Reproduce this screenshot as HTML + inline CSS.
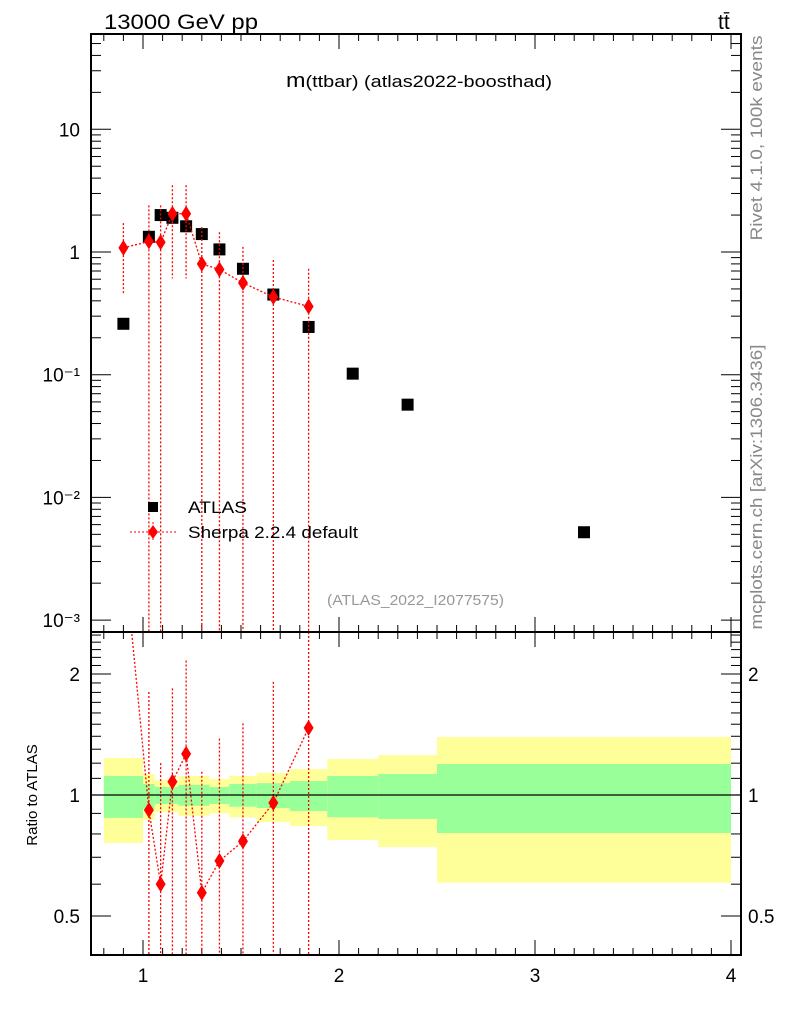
<!DOCTYPE html>
<html><head><meta charset="utf-8"><style>
body{margin:0;background:#fff}
svg text{font-family:"Liberation Sans",sans-serif}
</style></head><body>
<svg id="c" width="786" height="1024" xmlns="http://www.w3.org/2000/svg">
<rect width="786" height="1024" fill="#fff"/>
<g id="bands"></g>
<g id="ticks" stroke="#000" stroke-width="1"></g>
<g id="marks"></g>
<rect x="91" y="34" width="650" height="598" fill="none" stroke="#000" stroke-width="2"/>
<rect x="91" y="632" width="650" height="323" fill="none" stroke="#000" stroke-width="2"/>
<text x="104" y="29" font-size="21" textLength="154" lengthAdjust="spacingAndGlyphs">13000 GeV pp</text>
<text x="718" y="29" font-size="21">tt̄</text>
<text x="286" y="87" font-size="17" textLength="266" lengthAdjust="spacingAndGlyphs"><tspan font-size="20">m</tspan>(ttbar) (atlas2022-boosthad)</text>
<text transform="translate(762,138) rotate(-90)" font-size="17" fill="#888" text-anchor="middle" textLength="205" lengthAdjust="spacingAndGlyphs">Rivet 4.1.0,  100k events</text>
<text transform="translate(762,487) rotate(-90)" font-size="17" fill="#888" text-anchor="middle" textLength="285" lengthAdjust="spacingAndGlyphs">mcplots.cern.ch [arXiv:1306.3436]</text>
<text x="327" y="605" font-size="15" fill="#999" textLength="177" lengthAdjust="spacingAndGlyphs">(ATLAS_2022_I2077575)</text>
<text transform="translate(37,795) rotate(-90)" font-size="15" text-anchor="middle">Ratio to ATLAS</text>
<g>
<rect x="148" y="502" width="10" height="10" fill="#000"/>
<text x="188" y="513" font-size="17" textLength="59" lengthAdjust="spacingAndGlyphs">ATLAS</text>
<line x1="130" y1="532" x2="176" y2="532" stroke="red" stroke-dasharray="2,2"/>
<line x1="153" y1="522" x2="153" y2="542" stroke="red" stroke-dasharray="2,2"/>
<path d="M153,525 L158,532 L153,539 L148,532Z" fill="red"/>
<text x="188" y="538" font-size="17" textLength="170" lengthAdjust="spacingAndGlyphs">Sherpa 2.2.4 default</text>
</g>
<line x1="91" y1="795" x2="741" y2="795" stroke="#000" stroke-width="1.2"/>
</svg>
<script>
const edges=[0.8,1.0,1.06,1.12,1.18,1.26,1.34,1.44,1.58,1.75,1.94,2.2,2.5,4.0];
const atlas=[0.26,1.33,2.0,1.9,1.62,1.4,1.05,0.73,0.45,0.245,0.102,0.057,0.0052];
const sherpa=[1.08,1.22,1.2,2.05,2.05,0.8,0.72,0.56,0.43,0.36];
const sherpaUp=[1.72,2.4,2.4,3.5,3.5,1.6,1.45,1.1,0.86,0.73];
const sherpaDn=[0.45,0,0,0.61,0.61,0,0,0,0,0];
const yellowHi=[1.236,1.128,1.09,1.09,1.115,1.115,1.096,1.115,1.134,1.16,1.229,1.257,1.394];
const yellowLo=[0.76,0.867,0.907,0.907,0.887,0.887,0.9,0.88,0.857,0.837,0.773,0.742,0.605];
const greenHi=[1.115,1.065,1.047,1.047,1.06,1.06,1.047,1.065,1.07,1.083,1.115,1.128,1.194];
const greenLo=[0.877,0.923,0.95,0.95,0.94,0.94,0.95,0.935,0.928,0.912,0.88,0.872,0.804];
const yTicks=['10','1','10⁻¹','10⁻²','10⁻³'];
const yTickVals=[10,1,0.1,0.01,0.001];
const rTicks=['2','1','0.5'];
const rTickVals=[2,1,0.5];
const xTicks=['1','2','3','4'];
const xTickVals=[1,2,3,4];

const NS='http://www.w3.org/2000/svg';
const X=v=>143+(v-1)*196;
const Y=v=>252-Math.log10(v)*122.7;
const R=v=>795-Math.log2(v)*121;
const MT=34,MB=632,RT=632,RB=955,L=91,RR=741;
function mk(tag,attrs,parent){const e=document.createElementNS(NS,tag);for(const k in attrs)e.setAttribute(k,attrs[k]);(parent||document.getElementById('marks')).appendChild(e);return e;}
const clampR=v=>Math.max(RT,Math.min(RB,v));
const cent=[];for(let i=0;i<edges.length-1;i++)cent.push((edges[i]+edges[i+1])/2);

const bg=document.getElementById('bands');
for(let i=0;i<edges.length-1;i++){
 let x1=X(edges[i]),x2=X(edges[i+1]);
 let e=mk('rect',{x:x1,y:R(yellowHi[i]),width:x2-x1,height:R(yellowLo[i])-R(yellowHi[i]),fill:'#ffff99'},bg);
 
 
 e=mk('rect',{x:x1,y:R(greenHi[i]),width:x2-x1,height:R(greenLo[i])-R(greenHi[i]),fill:'#99ff99'},bg);
 
 
}
const tg=document.getElementById('ticks');
function tick(x1,y1,x2,y2){mk('line',{x1,y1,x2,y2},tg);}
for(let d=-3;d<=1;d++)for(let m=1;m<10;m++){const v=m*Math.pow(10,d),y=Y(v);if(y<MT||y>MB)continue;const len=m==1?20:10;tick(L,y,L+len,y);tick(RR,y,RR-len,y);}
for(let v=0.4;v<=2.55;v+=0.1){const y=R(v);if(y<RT||y>RB)continue;const maj=[0.5,1,2].some(t=>Math.abs(t-v)<1e-6);const len=maj?20:10;tick(L,y,L+len,y);tick(RR,y,RR-len,y);}
for(let k=8;k<=40;k++){const v=k/10,x=X(v);if(x<L||x>RR)continue;const len=(k%10==0)?15:7;tick(x,RB,x,RB-len);tick(x,RT,x,RT-len);tick(x,RT,x,RT+len);tick(x,MT,x,MT+len);}
yTicks.forEach((t,i)=>{const e=mk('text',{x:80,y:Y(yTickVals[i])+7,'font-size':19,'text-anchor':'end'});e.textContent=t;
 
 });
rTicks.forEach((t,i)=>{let e=mk('text',{x:80,y:R(rTickVals[i])+7,'font-size':19,'text-anchor':'end'});e.textContent=t;
 
 
 e=mk('text',{x:748,y:R(rTickVals[i])+7,'font-size':19});e.textContent=t;
 
 });
xTicks.forEach((t,i)=>{const e=mk('text',{x:X(xTickVals[i]),y:982,'font-size':19,'text-anchor':'middle'});e.textContent=t;
 
 });
atlas.forEach((v,i)=>{const e=mk('rect',{x:X(cent[i])-6,y:Y(v)-6,width:12,height:12,fill:'#000'});
 
 });
const dash={stroke:'red','stroke-width':1.3,'stroke-dasharray':'2,2',fill:'none'};
let pts=sherpa.map((v,i)=>X(cent[i])+','+Y(v)).join(' ');
let e=mk('polyline',Object.assign({points:pts},dash));


let rp=[];
sherpa.forEach((v,i)=>{const x=X(cent[i]);
 let el=mk('line',Object.assign({x1:x,x2:x,y1:Y(sherpaUp[i]),y2:sherpaDn[i]>0?Y(sherpaDn[i]):MB},dash));
 
 
 const y=Y(v);
 el=mk('path',{d:`M${x},${y-8}L${x+5},${y}L${x},${y+8}L${x-5},${y}Z`,fill:'red'});
 
 
 const r=v/atlas[i];rp.push([x,R(r),r]);
 const ry=R(r);
 if(ry>=RT&&ry<=RB){
  el=mk('line',Object.assign({x1:x,x2:x,y1:clampR(R(sherpaUp[i]/atlas[i])),y2:sherpaDn[i]>0?clampR(R(sherpaDn[i]/atlas[i])):RB},dash));
  
  
 }
});
const clip=mk('clipPath',{id:'rc'},document.getElementById('c'));
mk('rect',{x:L,y:RT,width:RR-L,height:RB-RT},clip);
e=mk('polyline',Object.assign({points:rp.map(p=>p[0]+','+p[1]).join(' '),'clip-path':'url(#rc)'},dash));


rp.forEach(p=>{if(p[1]<RT||p[1]>RB)return;const el=mk('path',{d:`M${p[0]},${p[1]-8}L${p[0]+5},${p[1]}L${p[0]},${p[1]+8}L${p[0]-5},${p[1]}Z`,fill:'red'});
 
 });
</script>
</body></html>
